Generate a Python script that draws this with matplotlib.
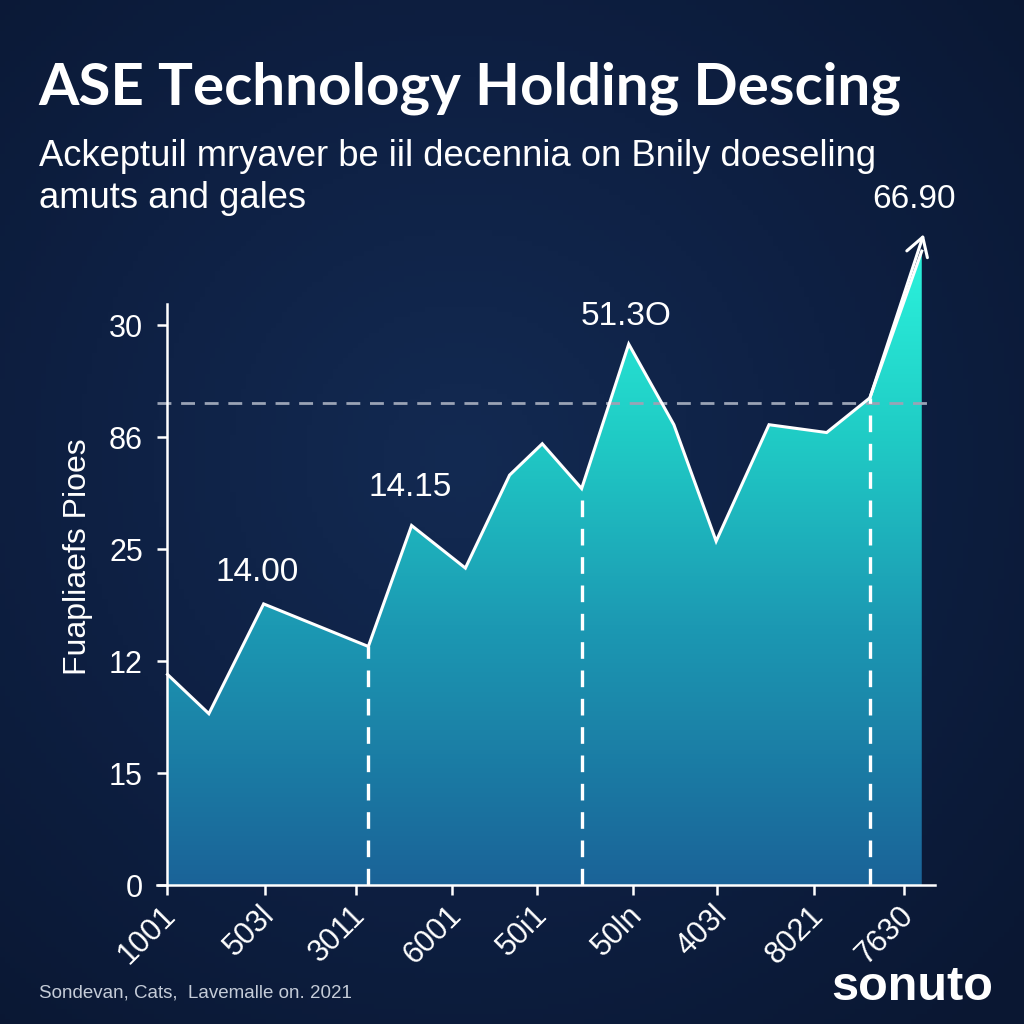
import numpy as np
import matplotlib.pyplot as plt
import matplotlib.transforms as mtransforms
from matplotlib.colors import LinearSegmentedColormap
from matplotlib.patches import Polygon

title = "ASE Technology Holding Descing"
subtitle_1 = "Ackeptuil mryaver be iil decennia on Bnily doeseling"
subtitle_2 = "amuts and gales"
y_label = "Fuapliaefs Pioes"
source = "Sondevan, Cats,  Lavemalle on. 2021"
brand = "sonuto"

# price path (x in period units, y in grid units: 10 per y gridline)
period = [0.01, 0.44, 1.01, 2.10, 2.55, 3.11, 3.57, 3.91, 4.32, 4.81, 5.28, 5.72, 6.27, 6.87, 7.32, 7.86]
price = [18.8, 15.3, 25.1, 21.3, 32.1, 28.3, 36.6, 39.4, 35.4, 48.3, 41.1, 30.7, 41.1, 40.4, 43.5, 56.6]

x_tick_pos = [0, 1.02, 1.97, 2.97, 3.86, 4.85, 5.73, 6.74, 7.67]
x_tick_labels = ["1001", "503l", "3011", "6001", "50i1", "50ln", "403l", "8021", "7630"]
y_tick_pos = [0, 10, 20, 30, 40, 50]
y_tick_labels = ["0", "15", "12", "25", "86", "30"]

ref_level = 43.0
marker_idx = [3, 8, 14]

callout_x = [0.94, 2.54, 4.78, 7.78]
callout_y = [27.9, 35.5, 50.8, 61.2]
callout_txt = ["14.00", "14.15", "51.3O", "66.90"]

BG = "#0e2043"
plt.rcParams['font.family'] = ['Liberation Sans', 'DejaVu Sans']

fig = plt.figure(figsize=(10.24, 10.24), dpi=100)
fig.patch.set_facecolor(BG)

# soft background glow
bg = fig.add_axes([0, 0, 1, 1], zorder=-10)
yy, xx = np.mgrid[0:1:200j, 0:1:200j]
r = np.sqrt((xx - 0.45) ** 2 + (yy - 0.45) ** 2)
bg_cmap = LinearSegmentedColormap.from_list("bg", ["#132a52", "#0e2043", "#0a1732"])
bg.imshow(r, cmap=bg_cmap, extent=[0, 1, 0, 1], aspect='auto', vmin=0, vmax=0.75)
bg.axis('off')

ax = fig.add_axes([0.1533, 0.1357, 0.760, 0.6344])
ax.set_facecolor('none')
ax.set_xlim(-0.1, 8.0)
ax.set_ylim(0, 58)

# gradient area
verts = [(period[0], 0)] + list(zip(period, price)) + [(period[-1], 0)]
poly = Polygon(verts, closed=True, facecolor='none', edgecolor='none')
ax.add_patch(poly)
fill_cmap = LinearSegmentedColormap.from_list(
    "fill", [(0, "#1a6398"), (0.4, "#1c99b3"), (0.7, "#20cdc6"), (1, "#2cf6de")])
grad = np.linspace(0, 1, 256).reshape(-1, 1)
im = ax.imshow(grad, cmap=fill_cmap, origin='lower', extent=[0, 8, 0, 58], aspect='auto', zorder=1)
im.set_clip_path(poly)

# reference dashed line
ax.plot([-0.1, 7.95], [ref_level, ref_level], color="#9aa3b5", lw=2, dashes=(5, 3.5), zorder=2)

# vertical markers
for i in marker_idx:
    ax.plot([period[i], period[i]], [0, price[i]], color="white", lw=2.4, dashes=(5, 3.5), zorder=3)

ax.plot(period, price, color="white", lw=2.2, solid_joinstyle='miter', zorder=4)
ax.annotate('', xy=(period[-1] + 0.02, price[-1] + 1.5), xytext=(period[-2], price[-2]),
            arrowprops=dict(arrowstyle='->,head_length=0.5,head_width=0.3', color='white', lw=2.2,
                            mutation_scale=26, shrinkA=0, shrinkB=0),
            zorder=5, annotation_clip=False)

for cx, cy, t in zip(callout_x, callout_y, callout_txt):
    ax.text(cx, cy, t, color='white', fontsize=24, ha='center', va='center', zorder=6)

# axes styling
for s in ['top', 'right']:
    ax.spines[s].set_visible(False)
ax.spines['left'].set_position(('data', 0))
ax.spines['left'].set_bounds(0, 51.9)
for s in ['left', 'bottom']:
    ax.spines[s].set_color('white')
    ax.spines[s].set_linewidth(1.8)
    ax.spines[s].set_zorder(7)

ax.set_yticks(y_tick_pos)
ax.set_yticklabels(y_tick_labels)
ax.set_xticks(x_tick_pos)
ax.set_xticklabels(x_tick_labels, rotation=45, ha='right', va='top', rotation_mode='anchor')
ax.tick_params(axis='both', colors='white', width=1.8, length=7, labelsize=22, direction='out')
ax.tick_params(axis='y', pad=10)
ax.tick_params(axis='x', pad=4)
shift = mtransforms.ScaledTranslation(-4 / 72, 0, fig.dpi_scale_trans)
for lab in ax.get_xticklabels():
    lab.set_transform(lab.get_transform() + shift)

fig.text(78 / 1024, 1 - 557 / 1024, y_label, rotation=90, color='white', fontsize=23,
         ha='center', va='center')

# header texts
t_title = fig.text(38 / 1024, 1 - 88 / 1024, title, color='white', fontsize=40,
                   family=['Lato', 'Open Sans', 'DejaVu Sans'], weight='bold', ha='left', va='center')
t_sub1 = fig.text(39 / 1024, 1 - 157 / 1024, subtitle_1, color='white', fontsize=26,
                  ha='left', va='center')
t_sub2 = fig.text(39 / 1024, 1 - 198 / 1024, subtitle_2, color='white', fontsize=26,
                  ha='left', va='center')

t_src = fig.text(39 / 1024, 1 - 993 / 1024, source, color='#c5ccd8', fontsize=14, ha='left', va='center')
fig.text(993 / 1024, 1 - 987 / 1024, brand, color='white', fontsize=35, weight='bold',
         ha='right', va='center')

fig.canvas.draw()
rend = fig.canvas.get_renderer()
for txt, target in [(t_title, 862), (t_sub1, 836), (t_sub2, 267), (t_src, 314)]:
    w = txt.get_window_extent(renderer=rend).width
    txt.set_fontsize(txt.get_fontsize() * target / w)

fig.savefig("out.png", dpi=100, facecolor=fig.get_facecolor())
